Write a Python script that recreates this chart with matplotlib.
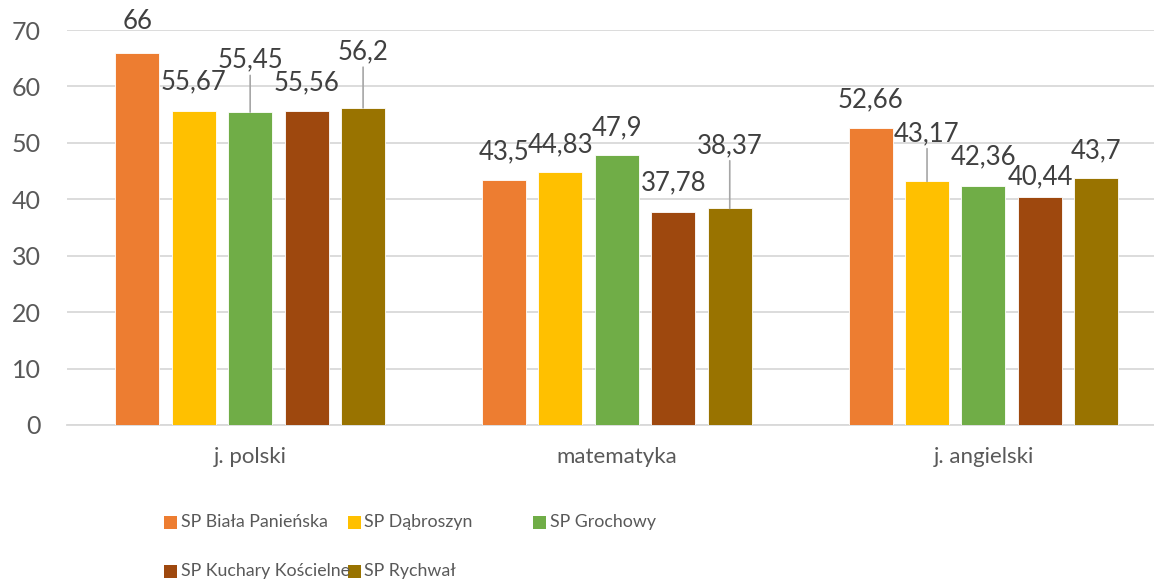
import matplotlib
matplotlib.use("Agg")
import matplotlib.pyplot as plt
from matplotlib.patches import Rectangle
import numpy as np

# ---- data ----
subjects = ["j. polski", "matematyka", "j. angielski"]
schools = ["SP Biała Panieńska", "SP Dąbroszyn", "SP Grochowy",
           "SP Kuchary Kościelne", "SP Rychwał"]
biala = [66, 43.5, 52.66]
dabroszyn = [55.67, 44.83, 43.17]
grochowy = [55.45, 47.9, 42.36]
kuchary = [55.56, 37.78, 40.44]
rychwal = [56.2, 38.37, 43.7]
series = [biala, dabroszyn, grochowy, kuchary, rychwal]

colors = ["#ED7D31", "#FFC000", "#70AD47", "#9E480E", "#997300"]

# vertical offset (px) of each value label above its bar, per school / subject
label_lift = [
    [31, 28, 28],
    [29, 27, 48],
    [52, 27, 29],
    [29, 29, 20],
    [56, 63, 28],
]
# labels lifted far enough get a leader line down to the bar
leader = [
    [False, False, False],
    [False, False, True],
    [True, False, False],
    [False, False, False],
    [True, True, False],
]

plt.rcParams["font.family"] = ["Lato", "DejaVu Sans"]

W, H = 1154, 585
fig = plt.figure(figsize=(W / 100, H / 100), dpi=100)
ax = fig.add_axes([67 / W, (H - 425) / H, (W - 67) / W, 395 / H])

x = np.arange(len(subjects))
width = 0.12
step = 0.154
n = len(series)

for i, (vals, col) in enumerate(zip(series, colors)):
    pos = x + (i - (n - 1) / 2) * step
    ax.bar(pos, vals, width=width, color=col, edgecolor="white",
           linewidth=0.6, zorder=3)
    for j, (bx, v) in enumerate(zip(pos, vals)):
        txt = f"{v:g}".replace(".", ",")
        lift_pt = label_lift[i][j] * 0.72
        kw = {}
        if leader[i][j]:
            kw["arrowprops"] = dict(arrowstyle="-", color="#A6A6A6", lw=1.2,
                                    shrinkA=0, shrinkB=0, relpos=(0.5, 0.0))
        ax.annotate(txt, xy=(bx, v), xytext=(0, lift_pt),
                    textcoords="offset points", ha="center", va="center",
                    fontsize=18.5, color="#404040", zorder=5, **kw)

ax.set_ylim(0, 70)
ax.set_xlim(-0.4995, 2.465)
ax.set_yticks(np.arange(0, 71, 10))
ax.set_xticks(x)
ax.set_xticklabels(subjects)
ax.grid(axis="y", color="#D9D9D9", linewidth=1.3, zorder=0)
for s in ["top", "right", "left"]:
    ax.spines[s].set_visible(False)
ax.spines["bottom"].set_color("#D9D9D9")
ax.spines["bottom"].set_linewidth(1.3)
ax.tick_params(axis="y", length=0, labelsize=18, labelcolor="#595959", pad=19)
ax.tick_params(axis="x", length=0, labelsize=16, labelcolor="#595959", pad=16)

# legend laid out as Excel does: equal-width columns, two rows
leg_cols_px = [170, 354, 539]
leg_rows_px = [522, 571]
sq = 13
for k, (name, col) in enumerate(zip(schools, colors)):
    r, c = divmod(k, 3)
    cx, cy = leg_cols_px[c], leg_rows_px[r]
    fig.add_artist(Rectangle(((cx - sq / 2) / W, (H - cy - sq / 2) / H),
                             sq / W, sq / H, transform=fig.transFigure,
                             facecolor=col, edgecolor="none"))
    fig.text((cx + sq / 2 + 4) / W, (H - cy) / H, name, ha="left",
             va="center", fontsize=12.8, color="#595959")

fig.savefig("out.png", dpi=100)
